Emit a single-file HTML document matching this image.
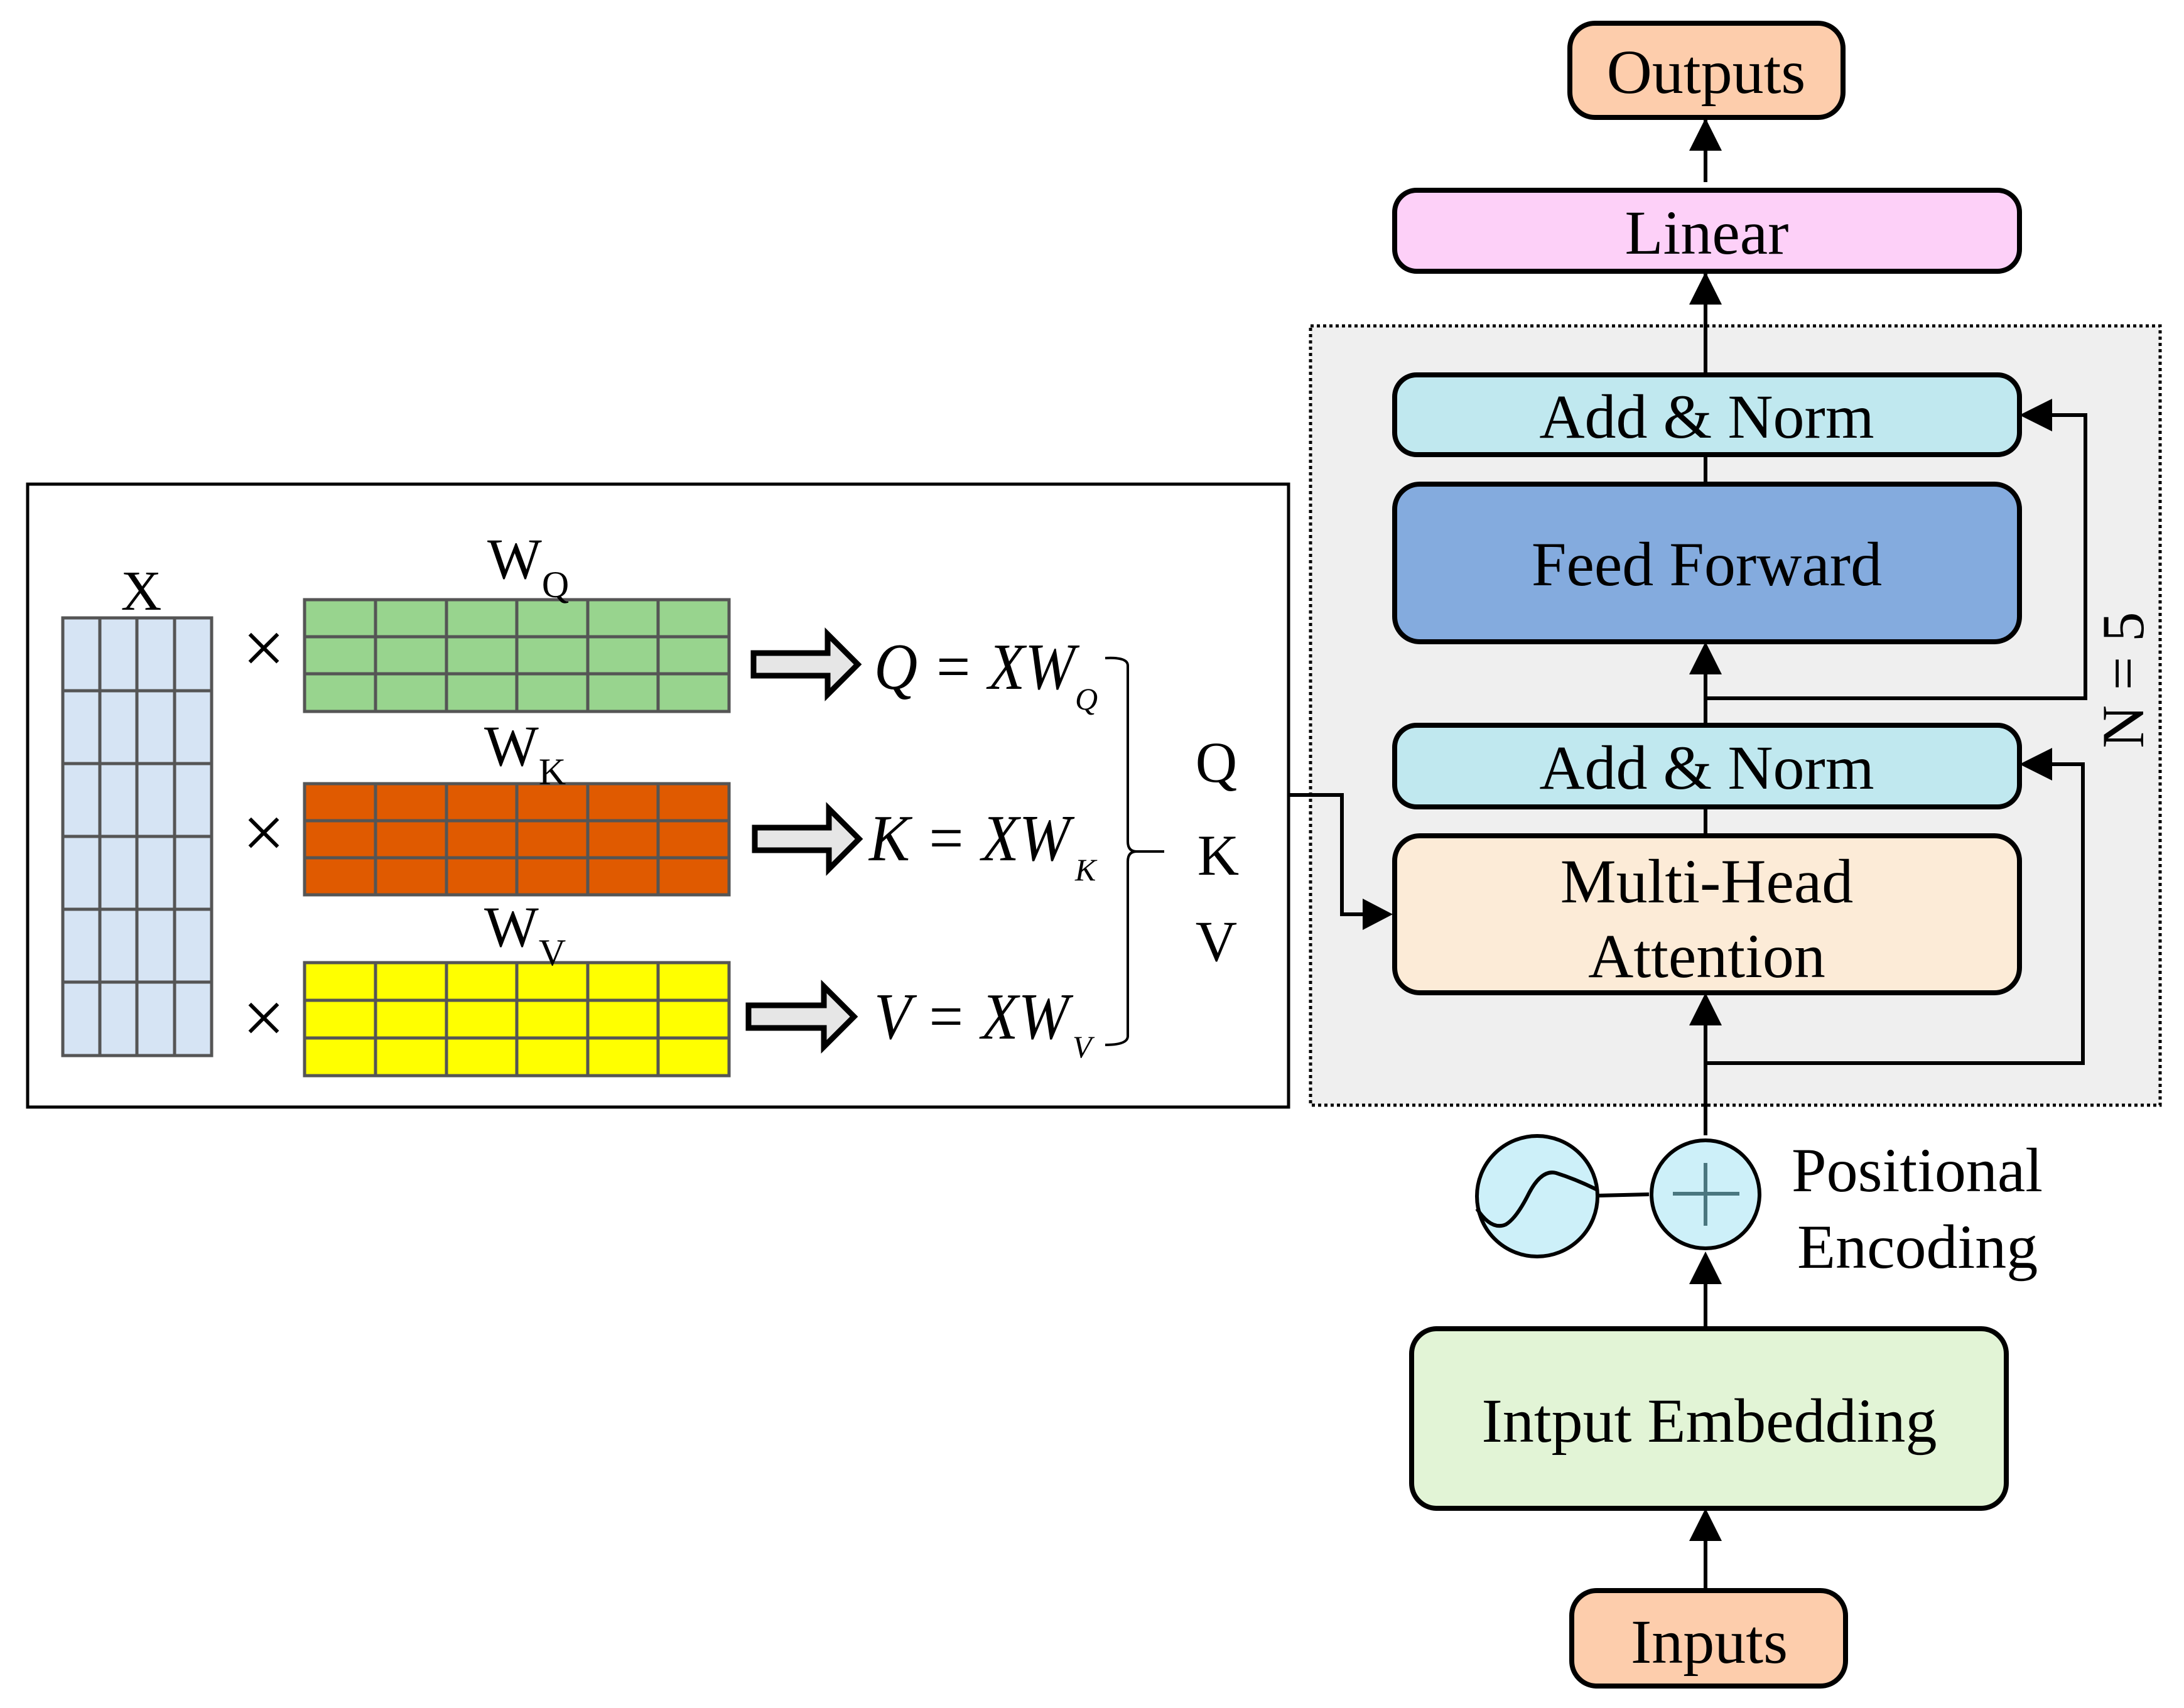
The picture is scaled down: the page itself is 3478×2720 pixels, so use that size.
<!DOCTYPE html>
<html><head><meta charset="utf-8"><style>
html,body{margin:0;padding:0;background:#fff;}
svg{display:block;}
text{font-family:"Liberation Serif",serif;fill:#000;}
</style></head><body>
<svg width="3478" height="2720" viewBox="0 0 3478 2720" xmlns="http://www.w3.org/2000/svg">
<!-- dotted region -->
<rect x="2087" y="519" width="1353" height="1241" fill="#efefef" stroke="#000" stroke-width="5" stroke-dasharray="5,5"/>

<!-- left panel -->
<rect x="44" y="771" width="2008" height="992" fill="#fff" stroke="#000" stroke-width="5"/>

<!-- X matrix -->
<g stroke="#555" stroke-width="5">
<rect x="100" y="984" width="237" height="697" fill="#d6e4f4"/>
<line x1="159" y1="984" x2="159" y2="1681"/><line x1="218" y1="984" x2="218" y2="1681"/><line x1="278" y1="984" x2="278" y2="1681"/>
<line x1="100" y1="1100" x2="337" y2="1100"/><line x1="100" y1="1216" x2="337" y2="1216"/><line x1="100" y1="1332" x2="337" y2="1332"/><line x1="100" y1="1448" x2="337" y2="1448"/><line x1="100" y1="1564" x2="337" y2="1564"/>
</g>
<!-- W matrices -->
<g stroke="#555" stroke-width="5">
<rect x="485" y="955" width="676" height="178" fill="#98d48e"/>
<rect x="485" y="1248" width="676" height="177" fill="#e05a00"/>
<rect x="485" y="1533" width="676" height="180" fill="#ffff00"/>
<path d="M485 1014H1161M485 1073H1161M485 1307H1161M485 1366H1161M485 1593H1161M485 1653H1161" fill="none"/>
<path d="M598 955V1133M711 955V1133M823 955V1133M936 955V1133M1048 955V1133" fill="none"/>
<path d="M598 1248V1425M711 1248V1425M823 1248V1425M936 1248V1425M1048 1248V1425" fill="none"/>
<path d="M598 1533V1713M711 1533V1713M823 1533V1713M936 1533V1713M1048 1533V1713" fill="none"/>
</g>
<text x="225" y="971" font-size="90" text-anchor="middle">X</text>
<text x="776" y="921" font-size="92">W<tspan font-size="60" dy="30">Q</tspan></text>
<text x="771" y="1219" font-size="92">W<tspan font-size="60" dy="30">K</tspan></text>
<text x="771" y="1507" font-size="92">W<tspan font-size="60" dy="30">V</tspan></text>
<g font-size="120" text-anchor="middle">
<text x="420" y="1072">×</text><text x="420" y="1366">×</text><text x="420" y="1661">×</text>
</g>
<!-- hollow arrows -->
<g fill="#e6e6e6" stroke="#000" stroke-width="9" stroke-linejoin="miter">
<path d="M1200 1040H1318V1010L1366 1058L1318 1106V1076H1200Z"/>
<path d="M1202 1318H1320V1288L1368 1336L1320 1384V1354H1202Z"/>
<path d="M1192 1601H1312V1571L1360 1619L1312 1667V1637H1192Z"/>
</g>
<g font-size="105" font-style="italic">
<text x="1392" y="1097" textLength="320" lengthAdjust="spacingAndGlyphs">Q = XW</text>
<text x="1712" y="1130" font-size="50">Q</text>
<text x="1384" y="1370" textLength="320" lengthAdjust="spacingAndGlyphs">K = XW</text>
<text x="1712" y="1402" font-size="50">K</text>
<text x="1392" y="1654" textLength="310" lengthAdjust="spacingAndGlyphs">V = XW</text>
<text x="1708" y="1684" font-size="50">V</text>
</g>
<!-- brace -->
<path d="M1760 1048Q1796 1046 1796 1060V1340Q1796 1356 1810 1356H1854M1810 1356Q1796 1356 1796 1372V1650Q1796 1664 1760 1664" fill="none" stroke="#000" stroke-width="4"/>
<g font-size="92" text-anchor="middle">
<text x="1937" y="1245">Q</text><text x="1940" y="1393">K</text><text x="1937" y="1530">V</text>
</g>

<!-- connector to MHA -->
<path d="M2052 1266H2137V1456H2170" fill="none" stroke="#000" stroke-width="6"/>
<path d="M2218 1456L2170 1431V1481Z" fill="#000"/>

<!-- vertical main lines -->
<g stroke="#000" stroke-width="6" fill="none">
<line x1="2716" y1="188" x2="2716" y2="290"/>
<line x1="2716" y1="433" x2="2716" y2="596"/>
<line x1="2716" y1="725" x2="2716" y2="770"/>
<line x1="2716" y1="1154" x2="2716" y2="1060"/>
<line x1="2716" y1="1286" x2="2716" y2="1330"/>
<line x1="2716" y1="1808" x2="2716" y2="1625"/>
<line x1="2716" y1="2115" x2="2716" y2="2035"/>
<line x1="2716" y1="2532" x2="2716" y2="2445"/>
<path d="M2716 1112H3321V661H3262"/>
<path d="M2716 1693H3317V1217H3262"/>
<line x1="2545" y1="1904" x2="2626" y2="1902"/>
</g>
<g fill="#000">
<path d="M2716 188L2690 240H2742Z"/>
<path d="M2716 433L2690 485H2742Z"/>
<path d="M2716 1022L2690 1074H2742Z"/>
<path d="M2716 1581L2690 1633H2742Z"/>
<path d="M2716 1993L2690 2045H2742Z"/>
<path d="M2716 2402L2690 2454H2742Z"/>
<path d="M3216 661L3268 635V687Z"/>
<path d="M3216 1217L3268 1191V1243Z"/>
</g>

<!-- boxes -->
<g stroke="#000" stroke-width="8">
<rect x="2500" y="37" width="435" height="150" rx="40" fill="#fdcdac"/>
<rect x="2221" y="303" width="995" height="129" rx="35" fill="#fdd0f8"/>
<rect x="2221" y="597" width="995" height="127" rx="35" fill="#c0e8ef"/>
<rect x="2221" y="771" width="995" height="251" rx="40" fill="#84abde"/>
<rect x="2221" y="1155" width="995" height="130" rx="35" fill="#c0e8ef"/>
<rect x="2221" y="1331" width="995" height="250" rx="40" fill="#fcebd7"/>
<rect x="2248" y="2116" width="947" height="286" rx="40" fill="#e2f4d6"/>
<rect x="2503" y="2533" width="436" height="152" rx="40" fill="#fdcdac"/>
</g>
<g font-size="100" text-anchor="middle">
<text x="2717" y="148">Outputs</text>
<text x="2718" y="404">Linear</text>
<text x="2718" y="697">Add &amp; Norm</text>
<text x="2718" y="932">Feed Forward</text>
<text x="2718" y="1256">Add &amp; Norm</text>
<text x="2718" y="1437">Multi-Head</text>
<text x="2718" y="1556">Attention</text>
<text x="2722" y="2296">Intput Embedding</text>
<text x="2722" y="2648">Inputs</text>
</g>
<text x="3413" y="1083" font-size="95" text-anchor="middle" transform="rotate(-90 3413 1083)">N = 5</text>

<!-- circles -->
<circle cx="2448" cy="1905" r="96" fill="#cdf0f9" stroke="#000" stroke-width="6"/>
<path d="M2352 1925Q2375 1960 2398 1950Q2415 1940 2435 1900Q2455 1862 2478 1868Q2510 1878 2544 1895" fill="none" stroke="#000" stroke-width="6"/>
<circle cx="2716" cy="1902" r="86" fill="#cdf0f9" stroke="#000" stroke-width="6"/>
<path d="M2716 1852V1952M2664 1901H2770" stroke="#4a7780" stroke-width="6"/>
<text x="2853" y="1897" font-size="100">Positional</text>
<text x="2862" y="2019" font-size="100">Encoding</text>
</svg>
</body></html>
